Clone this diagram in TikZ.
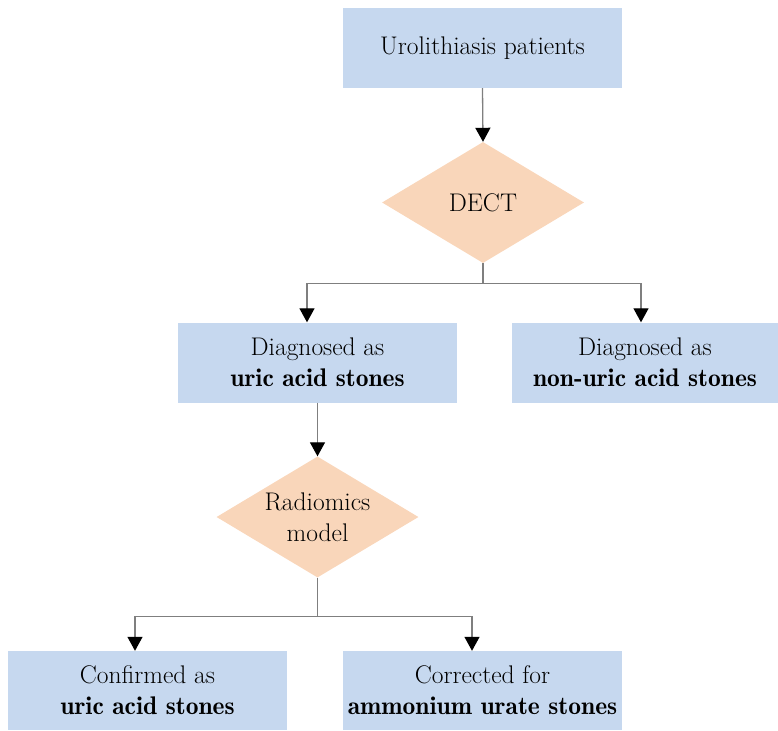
\documentclass[tikz,border=0pt]{standalone}
\usetikzlibrary{shapes.geometric,arrows.meta}
\definecolor{boxblue}{HTML}{C6D8EF}
\definecolor{peach}{HTML}{F9D6BA}
\definecolor{linegray}{HTML}{7F7F7F}
\newcommand{\bfl}[1]{{\fontseries{b}\selectfont #1}}
\begin{document}
\begin{tikzpicture}[x=1pt,y=1pt,
  box/.style={rectangle, fill=boxblue, minimum width=279pt, minimum height=80pt, inner sep=0pt, align=center, font=\rmfamily\fontsize{25.5}{31}\selectfont},
  dec/.style={diamond, fill=peach, minimum width=202pt, minimum height=121pt, inner xsep=-40pt, inner ysep=-20pt, align=center, font=\rmfamily\fontsize{25.5}{31}\selectfont},
  conn/.style={draw=linegray, line width=1.3pt, -{Triangle[length=14pt,width=15pt,color=black]}},
  plain/.style={draw=linegray, line width=1.3pt}]
\useasboundingbox (0,0) rectangle (778,-730);
\node[box] (b1) at (482.5,-48) {Urolithiasis patients};
\node[dec] (d1) at (483,-202.5) {DECT};
\node[box] (b2) at (317.5,-362.5) {Diagnosed as\\\bfl{uric acid stones}};
\node[box, minimum width=266pt] (b3) at (645,-362.5) {Diagnosed as\\\bfl{non-uric acid stones}};
\node[dec] (d2) at (317.5,-517) {Radiomics\\model};
\node[box, minimum height=79pt] (b4) at (147.5,-690.5) {Confirmed as\\\bfl{uric acid stones}};
\node[box, minimum height=79pt] (b5) at (482.5,-690.5) {Corrected for\\\bfl{ammonium urate stones}};
\coordinate (j1) at ([yshift=-20.5pt]d1.south);
\coordinate (j2) at ([yshift=-39pt]d2.south);
\draw[conn] (b1.south) -- (d1.north);
\draw[plain] (d1.south) -- (j1);
\draw[conn] (j1) -| ([xshift=-10.5pt]b2.north);
\draw[conn] (j1) -| ([xshift=-4pt]b3.north);
\draw[conn] (b2.south) -- (d2.north);
\draw[plain] (d2.south) -- (j2);
\draw[conn] (j2) -| ([xshift=-12.5pt]b4.north);
\draw[conn] (j2) -| ([xshift=-10.5pt]b5.north);
\end{tikzpicture}
\end{document}
